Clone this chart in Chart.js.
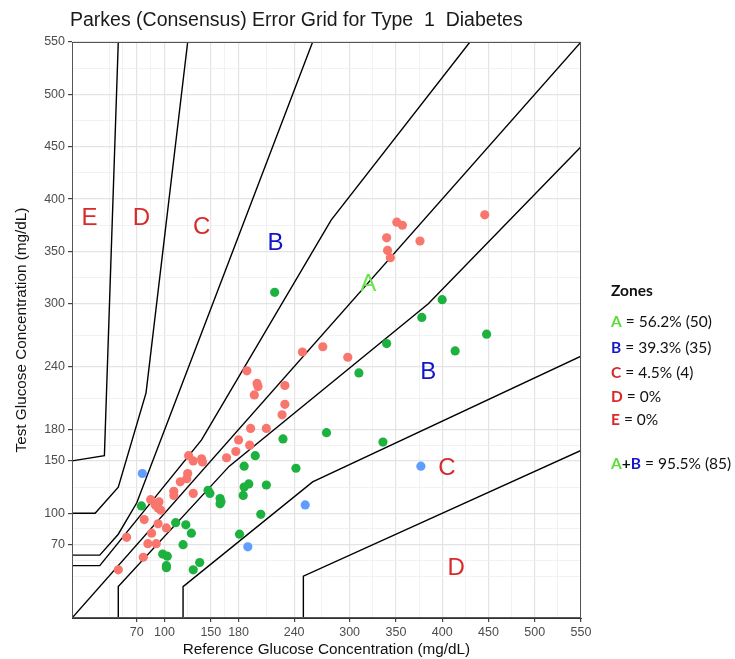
<!DOCTYPE html>
<html>
<head>
<meta charset="utf-8">
<title>Parkes Error Grid</title>
<script src="https://cdn.jsdelivr.net/npm/chart.js@4.4.0/dist/chart.umd.min.js"></script>
<style>
  body { margin: 0; background: #fff; }
  #wrap { position: relative; width: 735px; height: 659px; overflow: hidden; }
  #title { position: absolute; left: 70px; top: 8px; font: 19.5px "Liberation Sans", Arial, sans-serif; color: #1a1a1a; white-space: pre; }
  .lg { position: absolute; left: 611px; font: 15.5px Lato, "Open Sans", sans-serif; color: #111; line-height: 18px; white-space: pre; }
  .zA { color: #5fdc3c; font-weight: bold; }
  .zB { color: #1616c8; font-weight: bold; }
  .zR { color: #d82a2a; font-weight: bold; }
</style>
</head>
<body>
<div id="wrap">
  <canvas id="canvas" width="735" height="659"></canvas>
  <div id="title">Parkes (Consensus) Error Grid for Type  1  Diabetes</div>
  <div class="lg" style="top:281px"><b>Zones</b></div>
  <div class="lg" style="top:312px"><span class="zA">A</span> = 56.2% (50)</div>
  <div class="lg" style="top:338px"><span class="zB">B</span> = 39.3% (35)</div>
  <div class="lg" style="top:363px"><span class="zR">C</span> = 4.5% (4)</div>
  <div class="lg" style="top:387px"><span class="zR">D</span> = 0%</div>
  <div class="lg" style="top:410px"><span class="zR">E</span> = 0%</div>
  <div class="lg" style="top:454px"><span class="zA">A</span><b>+</b><span class="zB">B</span> = 95.5% (85)</div>
</div>

<script>
// zone boundaries (Parkes type 1)
var aUpperX = [0, 30, 140, 280, 430],   aUpperY = [50, 50, 170, 380, 550];
var aLowerX = [50, 50, 170, 385, 550],  aLowerY = [0, 30, 145, 300, 450];
var bUpperX = [0, 30, 50, 70, 260],     bUpperY = [60, 60, 80, 110, 550];
var bLowerX = [120, 120, 260, 550],     bLowerY = [0, 30, 130, 250];
var cUpperX = [0, 25, 50, 80, 125],     cUpperY = [100, 100, 125, 215, 550];
var cLowerX = [250, 250, 550],          cLowerY = [0, 40, 160];
var dUpperX = [0, 35, 50],              dUpperY = [150, 155, 550];
var identX = [0, 550],                  identY = [0, 550];

// measurements: reference vs test, grouped by zone
var zoneARef  = [446, 351, 357, 340, 376, 341, 344, 249, 271, 298,
                 189, 200, 201, 230, 197, 230, 227, 193, 210, 180, 192, 177, 167,
                 126, 131, 140, 141, 125, 124, 117, 110, 110, 131,
                 85, 94, 90, 93, 96, 78, 93, 102, 86, 59, 82, 91, 77, 50];
var zoneATest = [385, 378, 375, 363, 360, 351, 344, 254, 259, 249,
                 236, 224, 221, 222, 213, 204, 194, 181, 181, 170, 165, 159, 153,
                 155, 150, 152, 149, 138, 133, 130, 121, 117, 119,
                 113, 111, 108, 105, 103, 94, 90, 86, 81, 77, 71, 71, 58, 46];
var zoneBRef  = [219, 400, 378, 340, 448, 414, 310, 275, 336, 228, 186, 242, 198,
                 186, 191, 210, 185, 204, 181, 147, 149, 160, 161, 160,
                 75, 112, 123, 129, 120, 98, 103, 102, 102, 138, 131];
var zoneBTest = [311, 304, 287, 262, 271, 255, 234, 177, 168, 171, 145, 143, 155,
                 125, 128, 127, 117, 99, 80, 122, 119, 114, 111, 109,
                 107, 91, 89, 81, 70, 61, 59, 50, 48, 53, 46];
var zoneCRef  = [76, 252, 190, 377];
var zoneCTest = [138, 108, 68, 145];

var majorTicks = [70, 100, 150, 180, 240, 300, 350, 400, 450, 500, 550];
var minorTicks = [40, 55, 85, 125, 165, 210, 270, 325, 375, 425, 475, 525];

var zoneLabels = ['E', 'D', 'C', 'B', 'A', 'B', 'C', 'D'];
var zoneLabelX = [19, 75, 140, 220, 320, 385, 405, 415];
var zoneLabelY = [383, 383, 375, 360, 320, 236, 145, 49];
var zoneColors = { A: '#66e64a', B: '#1414c8', C: '#d82a2a', D: '#d82a2a', E: '#d82a2a' };

function pts(xs, ys) {
  return xs.map(function (x, i) { return { x: x, y: ys[i] }; });
}
function boundary(xs, ys) {
  return { data: pts(xs, ys), showLine: true, borderColor: '#000', borderWidth: 1.4,
           pointRadius: 0, fill: false, tension: 0 };
}
function points(xs, ys, col) {
  return { data: pts(xs, ys), backgroundColor: col, borderColor: col, borderWidth: 0,
           pointRadius: 4.6, showLine: false };
}

var allTicks = majorTicks.concat(minorTicks).sort(function (a, b) { return a - b; });
var isMajor = function (v) { return majorTicks.indexOf(v) >= 0; };

function axis(titleText, isX) {
  return {
    type: 'linear', min: 0, max: 550,
    afterBuildTicks: function (s) { s.ticks = allTicks.map(function (v) { return { value: v }; }); },
    afterFit: function (s) { if (isX) s.height = 41; else s.width = 72; },
    ticks: {
      autoSkip: false, maxRotation: 0, padding: 3, color: '#4d4d4d',
      font: { family: '"Liberation Sans", Arial, sans-serif', size: 12.5 },
      callback: function (v) { return isMajor(v) ? String(v) : ''; }
    },
    grid: {
      color: function (c) { return isMajor(c.tick.value) ? '#e4e4e4' : '#efefef'; },
      lineWidth: function (c) { return isMajor(c.tick.value) ? 1.2 : 0.8; },
      tickLength: 4,
      tickColor: function (c) { return isMajor(c.tick.value) ? '#444' : 'rgba(0,0,0,0)'; }
    },
    border: { color: '#333', width: 1 },
    title: {
      display: true, text: titleText, color: '#111',
      font: { family: '"Liberation Sans", Arial, sans-serif', size: 15.3 },
      padding: isX ? { top: 0, bottom: 0 } : { top: 13, bottom: 0 }
    }
  };
}

var frameAndLabels = {
  id: 'frameAndLabels',
  afterDatasetsDraw: function (chart) {
    var ctx = chart.ctx, a = chart.chartArea;
    var xs = chart.scales.x, ys = chart.scales.y;
    ctx.save();
    ctx.font = '24px "Liberation Sans", Arial, sans-serif';
    ctx.textAlign = 'center';
    ctx.textBaseline = 'alphabetic';
    zoneLabels.forEach(function (t, i) {
      ctx.fillStyle = zoneColors[t];
      ctx.fillText(t, xs.getPixelForValue(zoneLabelX[i]), ys.getPixelForValue(zoneLabelY[i]) + 8.6);
    });
    ctx.strokeStyle = '#555';
    ctx.lineWidth = 1;
    ctx.strokeRect(a.left + 0.5, a.top + 0.5, a.right - a.left - 1, a.bottom - a.top - 1);
    ctx.restore();
  }
};

new Chart(document.getElementById('canvas').getContext('2d'), {
  type: 'scatter',
  data: {
    datasets: [
      points(zoneARef, zoneATest, '#f8766d'),
      points(zoneBRef, zoneBTest, '#1db23f'),
      points(zoneCRef, zoneCTest, '#619cff'),
      boundary(aUpperX, aUpperY), boundary(aLowerX, aLowerY),
      boundary(bUpperX, bUpperY), boundary(bLowerX, bLowerY),
      boundary(cUpperX, cUpperY), boundary(cLowerX, cLowerY),
      boundary(dUpperX, dUpperY), boundary(identX, identY)
    ]
  },
  options: {
    responsive: false,
    animation: false,
    layout: { padding: { top: 42, right: 154, left: 0, bottom: 0 } },
    plugins: { legend: { display: false }, tooltip: { enabled: false } },
    scales: {
      x: axis('Reference Glucose Concentration (mg/dL)', true),
      y: axis('Test Glucose Concentration (mg/dL)', false)
    }
  },
  plugins: [frameAndLabels]
});
</script>
</body>
</html>
